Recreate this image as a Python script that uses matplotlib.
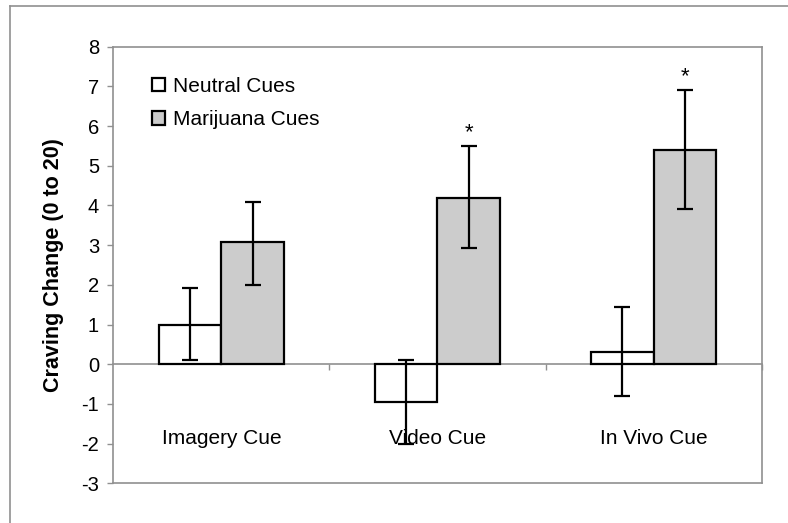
import numpy as np
import matplotlib
matplotlib.use("Agg")
import matplotlib.pyplot as plt
from matplotlib.lines import Line2D

plt.rcParams['font.family'] = ['Liberation Sans', 'DejaVu Sans']
plt.rcParams['axes.unicode_minus'] = False

# data
categories = ["Imagery Cue", "Video Cue", "In Vivo Cue"]
series_names = ["Neutral Cues", "Marijuana Cues"]
neutral_mean = [1.0, -0.95, 0.3]
neutral_low = [0.1, -2.0, -0.8]
neutral_high = [1.92, 0.1, 1.45]
marijuana_mean = [3.08, 4.18, 5.4]
marijuana_low = [2.0, 2.93, 3.92]
marijuana_high = [4.08, 5.5, 6.9]
significant = [False, True, True]   # star above marijuana bar
y_ticks = list(range(-3, 9))

grey = '#909090'
fig = plt.figure(figsize=(7.88, 5.23), dpi=100)
ax = fig.add_axes([0.1438, 0.0759, 0.8228, 0.8348])

x = np.arange(len(categories))
w = 0.29

# outer frame of the picture (only left/top visible)
fx, fy = 10 / 788, 1 - 6 / 523
fig.add_artist(Line2D([fx, fx], [0, fy], color=grey, lw=1.2))
fig.add_artist(Line2D([fx, 1], [fy, fy], color=grey, lw=1.2))

series = [
    (neutral_mean, neutral_low, neutral_high, 'white', -w / 2),
    (marijuana_mean, marijuana_low, marijuana_high, '#cccccc', w / 2),
]
for (mean, low, high, col, off), name in zip(series, series_names):
    mean = np.array(mean)
    ax.bar(x + off, mean, width=w, color=col, edgecolor='black',
           linewidth=1.6, label=name, zorder=3)
    yerr = [mean - np.array(low), np.array(high) - mean]
    ax.errorbar(x + off, mean, yerr=yerr, fmt='none', ecolor='black',
                elinewidth=1.6, capsize=5.5, capthick=1.6, zorder=4)

for i, sig in enumerate(significant):
    if sig:
        ax.text(x[i] + w / 2, marijuana_high[i] + 0.2, '*', ha='center',
                va='baseline', fontsize=16)

ax.set_xlim(-0.5, len(categories) - 0.5)
ax.set_ylim(y_ticks[0], y_ticks[-1])
ax.set_yticks(y_ticks)
ax.tick_params(axis='y', direction='out', length=4.3, width=1, color=grey,
               labelsize=14.5, pad=6)
ax.set_xticks([])
for s in ax.spines.values():
    s.set_color(grey)
    s.set_linewidth(1.2)

# zero line with category boundary ticks
zero = (0 - y_ticks[0]) / (y_ticks[-1] - y_ticks[0])
sec = ax.secondary_xaxis(zero)
sec.set_xticks(np.arange(0.5, len(categories), 1.0))
sec.set_xticklabels([])
sec.tick_params(direction='out', length=4.3, width=1, color=grey)
sec.spines['bottom'].set_color(grey)
sec.spines['bottom'].set_linewidth(1.2)
sec.spines['bottom'].set_zorder(2)

for i, c in enumerate(categories):
    ax.text(x[i], -1.86, c, ha='center', va='center', fontsize=15)

ax.set_ylabel("Craving Change (0 to 20)", fontsize=15.5, fontweight='bold')
ax.yaxis.set_label_coords(-0.076, 0.5)

ax.legend(loc='upper left', bbox_to_anchor=(0.0597, 0.9306), frameon=False,
          fontsize=15, borderpad=0, borderaxespad=0, handlelength=0.62,
          handleheight=0.62, handletextpad=0.4, labelspacing=0.68)

fig.savefig("out.png", dpi=100)
